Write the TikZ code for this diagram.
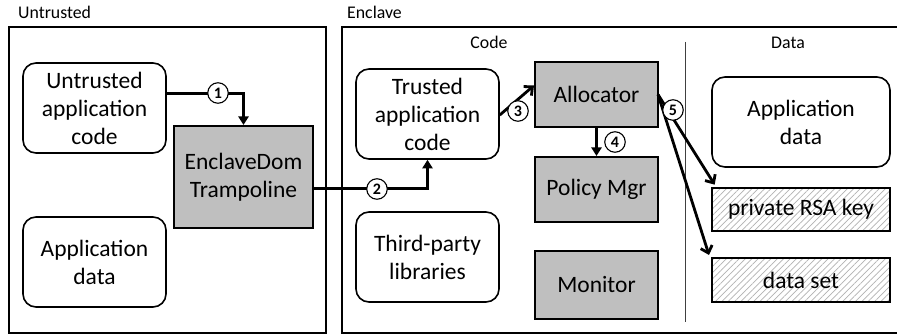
\documentclass[tikz,border=0pt]{standalone}
\usepackage{fontspec}
\setmainfont{Carlito}
\usetikzlibrary{arrows.meta,patterns.meta}
\newcommand\bxfont{\fontsize{23.5}{28}\selectfont}
\newcommand\lbfont{\fontsize{17.8}{20}\selectfont}
\newcommand\crfont{\fontsize{16}{17}\selectfont\bfseries}
\definecolor{boxgray}{RGB}{191,191,191}
\begin{document}
\begin{tikzpicture}[x=1pt,y=-1pt,
  rbox/.style={draw, line width=1.6pt, rounded corners=13pt, align=center, inner sep=0pt, font=\bxfont, minimum width=143pt, minimum height=90pt},
  gbox/.style={draw, line width=2pt, fill=boxgray, align=center, inner sep=0pt, font=\bxfont, minimum width=123pt},
  hbox/.style={draw, line width=2pt, pattern={Lines[angle=45,distance=4.5pt,line width=0.7pt]}, pattern color=black!30, align=center, inner sep=0pt, font=\bxfont, minimum width=178pt},
  lbl/.style={font=\lbfont, inner sep=0pt},
  circ/.style={circle, draw, line width=1.1pt, fill=white, minimum size=20.5pt, inner sep=0pt, font=\crfont},
  arr/.style={line width=3pt, -{Triangle[length=8.5pt,width=10pt]}},
  barb/.style={line width=2.8pt, -{Straight Barb[length=6.5pt,width=12pt]}}]
\useasboundingbox (0,0) rectangle (897,336);
\fill[white] (0,0) rectangle (897,336);

% outer regions
\draw[line width=2pt] (9,27) rectangle (326,333);
\draw[line width=2pt] (342,27) rectangle (900,333);
\node[lbl, anchor=base west] (lu) at (18,18.3) {Untrusted};
\node[lbl, anchor=base west] (le) at (347,18.3) {Enclave};
\node[lbl, anchor=base] (lc) at (489,48.3) {Code};
\node[lbl, anchor=base] (ld) at (788,48.3) {Data};
\draw[line width=1pt, black!75] (685,42) -- (685,322);

% untrusted side
\node[rbox] (utapp) at (94.5,108) {Untrusted\\application\\code};
\node[gbox, minimum width=139pt, minimum height=102pt] (tramp) at (243.5,177) {EnclaveDom\\Trampoline};
\node[rbox] (uadata) at (94.5,262) {Application\\data};

% enclave code
\node[rbox] (trusted) at (427.5,114) {Trusted\\application\\code};
\node[rbox] (third) at (427.5,257) {Third-party\\libraries};
\node[gbox, minimum height=65pt] (alloc) at (596.5,94.5) {Allocator};
\node[gbox, minimum height=65pt] (policy) at (596.5,189.5) {Policy Mgr};
\node[gbox, minimum height=68pt] (monitor) at (596.5,285) {Monitor};

% enclave data
\node[rbox, minimum width=178pt] (eadata) at (801,122) {Application\\data};
\node[hbox, minimum height=43pt] (rsa) at (801,209.5) {private RSA key};
\node[hbox, minimum height=44pt] (dset) at (801,280) {data set};

% connectors
\draw[arr] ([yshift=14pt]utapp.east) -| (tramp.north);
\draw[arr] ([yshift=-12pt]tramp.east) -| (trusted.south);
\draw[barb] ([yshift=-1pt]trusted.east) -- ([yshift=9pt]alloc.west);
\draw[arr] (alloc.south) -- (policy.north);
\draw[barb] ([xshift=-1pt]alloc.east) -- ([xshift=3pt,yshift=3pt]rsa.north west);
\draw[barb] ([xshift=-1pt]alloc.east) -- ([xshift=-2pt,yshift=2pt]dset.north west);

% step numbers
\node[circ] (c1) at (218,93) {1};
\node[circ] (c2) at (377,189) {2};
\node[circ] (c3) at (518,111) {3};
\node[circ] (c4) at (615,142) {4};
\node[circ] (c5) at (673,110) {5};
\end{tikzpicture}
\end{document}
